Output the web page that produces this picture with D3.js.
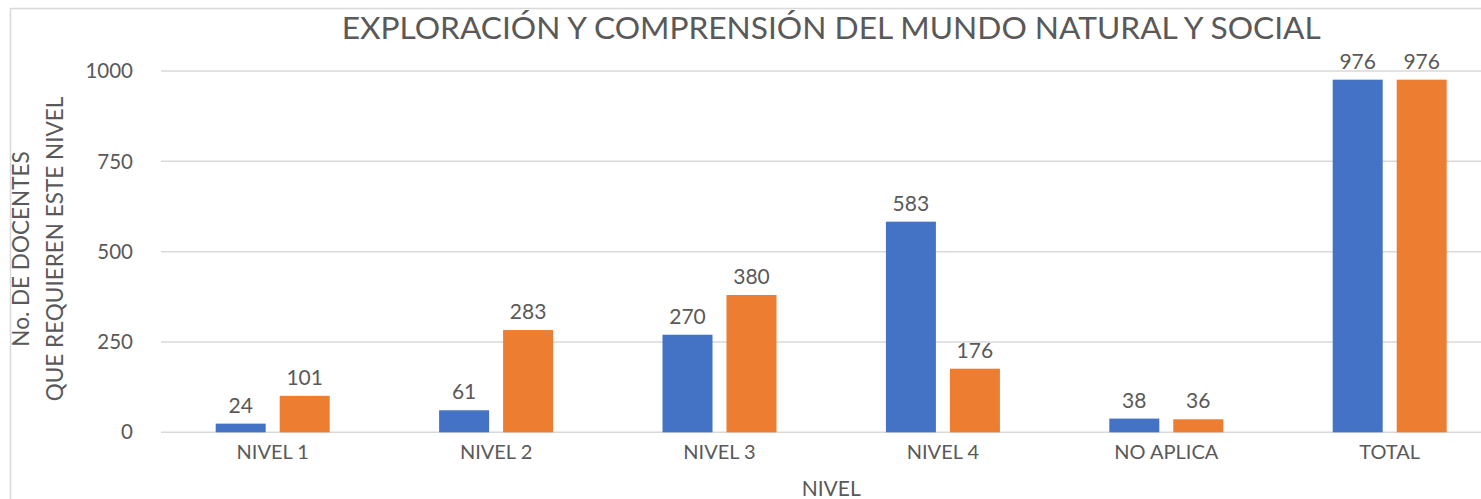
<!DOCTYPE html>
<html><head><meta charset="utf-8">
<script src="https://cdn.jsdelivr.net/npm/d3@7"></script>
<style>body{margin:0;background:#fff;overflow:hidden}svg{display:block}text{font-family:Lato,"Open Sans",sans-serif;fill:#595959}</style>
</head><body>
<script>
const categories = ["NIVEL 1","NIVEL 2","NIVEL 3","NIVEL 4","NO APLICA","TOTAL"];
const seriesA = [24, 61, 270, 583, 38, 976];
const seriesB = [101, 283, 380, 176, 36, 976];
const yTicks = [0, 250, 500, 750, 1000];
const title = "EXPLORACIÓN Y COMPRENSIÓN DEL MUNDO NATURAL Y SOCIAL";
const yTitle = ["No. DE DOCENTES", "QUE REQUIEREN ESTE NIVEL"];
const xTitle = "NIVEL";
const colors = ["#4472C4", "#ED7D31"];

const W = 1481, H = 499;
const svg = d3.select("body").append("svg").attr("width", W).attr("height", H);

// chart border (right/bottom off-screen)
svg.append("rect").attr("x", 10.5).attr("y", 8.5).attr("width", 1700).attr("height", 600)
  .attr("fill", "none").attr("stroke", "#d9d9d9").attr("stroke-width", 1.5);

const left = 161, step = 223.4, right = left + step * categories.length;
const x0 = d3.scaleBand().domain(categories).range([left, right]).padding(0);
const x1 = d3.scaleBand().domain([0, 1]).range([x0.bandwidth()/2 - 57, x0.bandwidth()/2 + 57]).paddingInner(14/64);
const y = d3.scaleLinear().domain([0, 1000]).range([432.3, 71]);

// gridlines
svg.append("g").selectAll("line").data(yTicks).join("line")
  .attr("x1", left).attr("x2", right)
  .attr("y1", d => y(d)).attr("y2", d => y(d))
  .attr("stroke", "#d9d9d9").attr("stroke-width", 1.5);

// y tick labels
svg.append("g").selectAll("text").data(yTicks).join("text")
  .attr("x", 133).attr("y", d => y(d)).attr("dy", "0.35em")
  .attr("text-anchor", "end").attr("font-size", 20.5).text(d => d);

// bars
const data = categories.map((c, i) => ({c, vals: [seriesA[i], seriesB[i]]}));
const g = svg.append("g").selectAll("g").data(data).join("g")
  .attr("transform", d => `translate(${x0(d.c)},0)`);
g.selectAll("rect").data(d => d.vals.map((v, k) => ({v, k}))).join("rect")
  .attr("x", d => x1(d.k)).attr("width", x1.bandwidth())
  .attr("y", d => y(d.v)).attr("height", d => y(0) - y(d.v))
  .attr("fill", d => colors[d.k]);
g.selectAll("text").data(d => d.vals.map((v, k) => ({v, k}))).join("text")
  .attr("x", d => x1(d.k) + x1.bandwidth()/2).attr("y", d => y(d.v) - 11)
  .attr("text-anchor", "middle").attr("font-size", 21).attr("fill", "#404040").text(d => d.v);

// x labels
svg.append("g").selectAll("text").data(categories).join("text")
  .attr("x", d => x0(d) + x0.bandwidth()/2).attr("y", 459)
  .attr("text-anchor", "middle").attr("font-size", 20).text(d => d);

// x title
svg.append("text").attr("x", (left + right)/2).attr("y", 496)
  .attr("text-anchor", "middle").attr("font-size", 21).text(xTitle);

// y title
const yt = svg.append("text").attr("transform", "translate(0,249) rotate(-90)")
  .attr("text-anchor", "middle").attr("font-size", 22.5);
yt.append("tspan").attr("x", 0).attr("y", 29).text(yTitle[0]);
yt.append("tspan").attr("x", 0).attr("y", 63).text(yTitle[1]);

// title
svg.append("text").attr("x", (left + right)/2).attr("y", 39)
  .attr("text-anchor", "middle").attr("font-size", 31.7).text(title);
</script>
</body></html>
